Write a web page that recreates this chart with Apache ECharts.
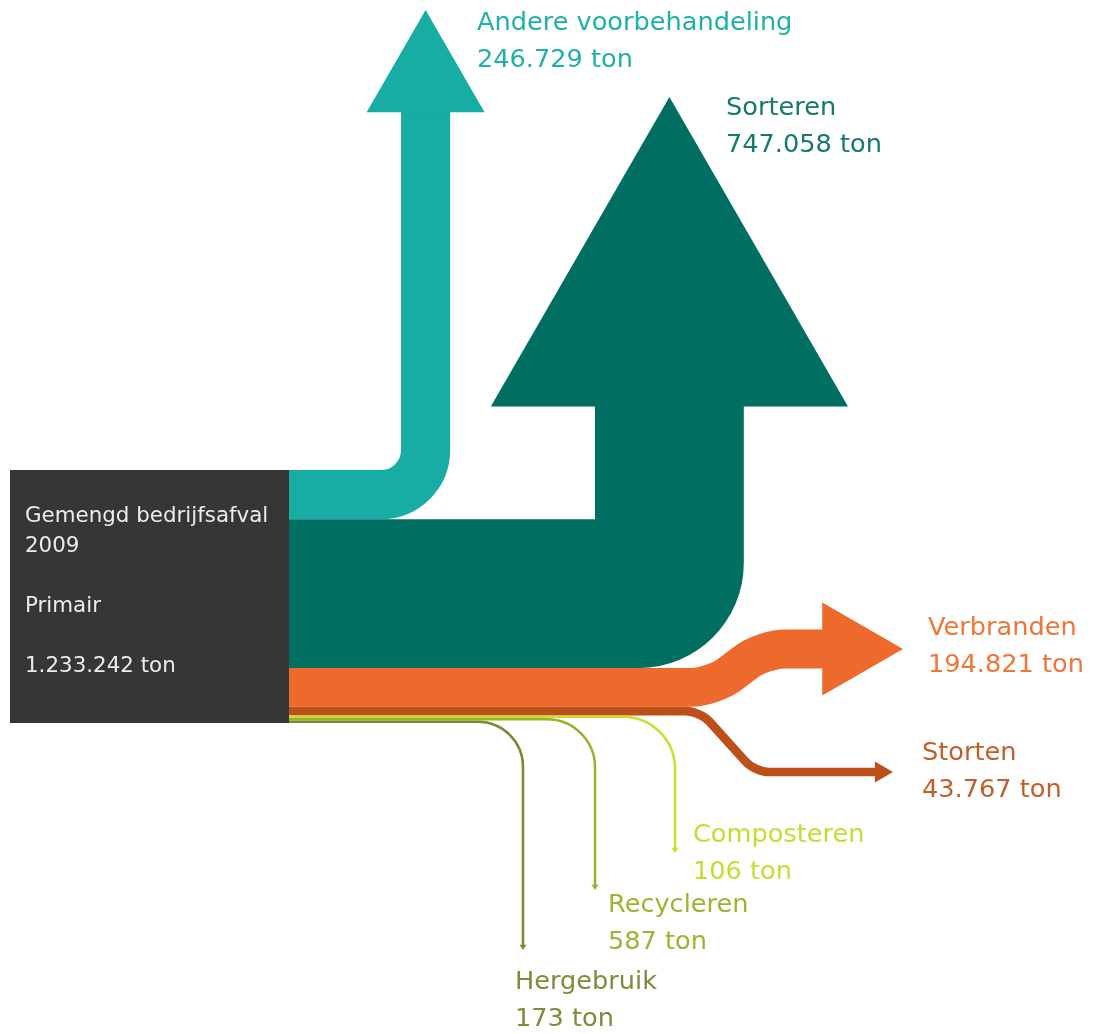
<!DOCTYPE html>
<html><head><meta charset="utf-8">
<script src="https://cdn.jsdelivr.net/npm/echarts@6/dist/echarts.min.js"></script>
<style>html,body{margin:0;padding:0;background:#fff}#c{width:1094px;height:1034px}</style>
</head><body><div id="c"></div>
<script>
// ---------- data ----------
const categories = ['Andere voorbehandeling', 'Sorteren', 'Verbranden', 'Storten', 'Composteren', 'Recycleren', 'Hergebruik'];
const values = [246729, 747058, 194821, 43767, 106, 587, 173];
const sourceLines = ['Gemengd bedrijfsafval', '2009', '', 'Primair', ''];
const sourceTotal = 1233242;
const unitLabel = 'ton';

// ---------- styles ----------
const bandColors = ['#17ada4', '#006e61', '#ee6a2c', '#bd4f1b', '#c8df2c', '#9cb02e', '#7c8a2e'];
const labelColors = ['#1fb0a7', '#147a6e', '#f07536', '#c25e2a', '#c5dd33', '#9fb332', '#7e8b38'];
const FONT = '"DejaVu Sans", Verdana, sans-serif';

// ---------- layout (chart units on hidden axes) ----------
const BOX = { x: 10, y: 470, w: 279 };
const TON_SCALE = 245.5 / 1232376;   // units per ton
const MIN_W = 2.5;
const HEAD_HALF = 1.2, HEAD_LEN = 2.08;
// waypoints after the box edge; null y = band centre line at the box
const routes = [
  { pts: [[425.6, null], [425.6, 10]], r: 44.6, label: [477, 5] },
  { pts: [[669.4, null], [669.4, 97]], r: 30.6, label: [726, 90] },
  { pts: [[713, null], [763, 649], [903, 649]], r: 22, label: [928, 610] },
  { pts: [[700, null], [755, 772], [893, 772]], r: 14, label: [922, 735] },
  { pts: [[675, null], [675, 853]], r: 52, label: [693, 817] },
  { pts: [[595, null], [595, 890]], r: 48, label: [608, 887] },
  { pts: [[523, null], [523, 950]], r: 45, label: [515, 964] }
];

function fmt(n) { return String(n).replace(/\B(?=(\d{3})+(?!\d))/g, '.'); }

const widths = values.map(v => Math.max(v * TON_SCALE, MIN_W));
const offsets = [];
widths.reduce((acc, w, i) => { offsets[i] = acc; return acc + w; }, 0);
const boxH = widths.reduce((a, b) => a + b, 0);

function unit(a, b) {
  const dx = b[0] - a[0], dy = b[1] - a[1];
  const l = Math.hypot(dx, dy) || 1;
  return [dx / l, dy / l, l];
}

function renderItem(params, api) {
  const idx = api.value(0);
  const y0 = api.coord([0, 0])[1];
  if (idx < 0) {
    const tl = api.coord([BOX.x, BOX.y]);
    const br = api.coord([BOX.x + BOX.w, BOX.y + boxH]);
    const txt = api.coord([BOX.x + 15, BOX.y + 31]);
    return {
      type: 'group', children: [
        { type: 'rect', shape: { x: tl[0], y: tl[1], width: br[0] - tl[0], height: br[1] - tl[1] }, style: { fill: '#363636' } },
        { type: 'text', x: txt[0], y: txt[1], style: {
          text: sourceLines.join('\n') + '\n' + fmt(api.value(1)) + ' ' + unitLabel,
          fill: '#ececec', fontSize: 21.4, fontFamily: FONT, lineHeight: 30, verticalAlign: 'top', align: 'left' } }
      ]
    };
  }
  const route = routes[idx];
  const w = Math.max(api.value(1) * TON_SCALE, MIN_W);
  const wpx = Math.abs(api.coord([0, w])[1] - y0);
  const yc = BOX.y + offsets[idx] + w / 2;
  const pts = [[BOX.x + BOX.w, yc]].concat(route.pts.map(p => [p[0], p[1] === null ? yc : p[1]])).map(p => api.coord(p));
  const rpx = Math.abs(api.coord([0, route.r])[1] - y0);
  const tip = pts[pts.length - 1];
  const d = unit(pts[pts.length - 2], tip);
  const hh = Math.max(HEAD_HALF * wpx, 3.5);
  const hlen = Math.max(HEAD_LEN * wpx, 5);
  const base = [tip[0] - d[0] * hlen, tip[1] - d[1] * hlen];
  const shaftEnd = [base[0] + d[0] * 1, base[1] + d[1] * 1];
  const K = 0.5523;
  let path = 'M' + pts[0][0] + ' ' + pts[0][1];
  const line = pts.slice(0, -1).concat([shaftEnd]);
  for (let i = 1; i < line.length - 1; i++) {
    const a = unit(line[i - 1], line[i]);
    const b = unit(line[i], line[i + 1]);
    const r = Math.min(rpx, a[2] / 2, b[2] / 2);
    const A = [line[i][0] - a[0] * r, line[i][1] - a[1] * r];
    const B = [line[i][0] + b[0] * r, line[i][1] + b[1] * r];
    const c1 = [A[0] + (line[i][0] - A[0]) * K, A[1] + (line[i][1] - A[1]) * K];
    const c2 = [B[0] + (line[i][0] - B[0]) * K, B[1] + (line[i][1] - B[1]) * K];
    path += ' L' + A[0] + ' ' + A[1] + ' C' + c1[0] + ' ' + c1[1] + ' ' + c2[0] + ' ' + c2[1] + ' ' + B[0] + ' ' + B[1];
  }
  path += ' L' + shaftEnd[0] + ' ' + shaftEnd[1];
  const n = [-d[1], d[0]];
  const head = [[base[0] + n[0] * hh, base[1] + n[1] * hh], tip, [base[0] - n[0] * hh, base[1] - n[1] * hh]];
  const lp = api.coord(route.label);
  return {
    type: 'group', children: [
      { type: 'path', shape: { pathData: path }, style: { fill: 'none', stroke: bandColors[idx], lineWidth: wpx, lineCap: 'butt', lineJoin: 'round' } },
      { type: 'polygon', shape: { points: head }, style: { fill: bandColors[idx] } },
      { type: 'text', x: lp[0], y: lp[1], style: {
        text: categories[idx] + '\n' + fmt(api.value(1)) + ' ' + unitLabel,
        fill: labelColors[idx], fontSize: 25.6, fontFamily: FONT, lineHeight: 37, verticalAlign: 'top', align: 'left' } }
    ]
  };
}

const seriesData = values.map((v, i) => [i, v]).concat([[-1, sourceTotal]]);

const chart = echarts.init(document.getElementById('c'), null, { renderer: 'canvas' });
chart.setOption({
  animation: false,
  backgroundColor: '#ffffff',
  grid: { left: 0, right: 0, top: 0, bottom: 0 },
  xAxis: { type: 'value', min: 0, max: 1094, show: false },
  yAxis: { type: 'value', min: 0, max: 1034, inverse: true, show: false },
  series: [{
    type: 'custom',
    renderItem: renderItem,
    data: seriesData,
    clip: false,
    silent: true
  }]
});
</script>
</body></html>
